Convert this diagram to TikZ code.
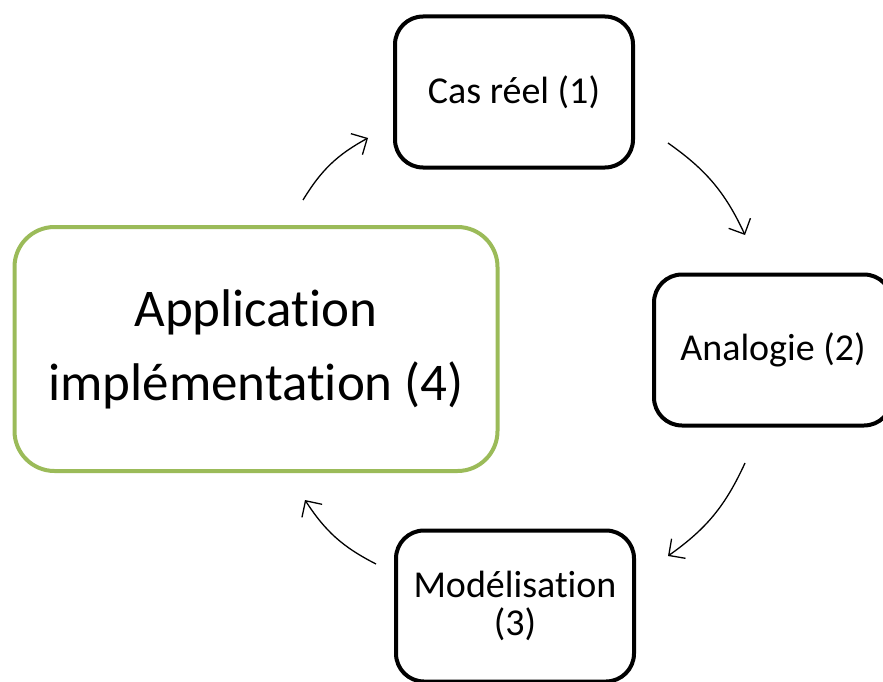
\documentclass[tikz,border=0pt]{standalone}
\usepackage{fontspec}
\setmainfont{Carlito}[Ligatures=CommonOff]
\usetikzlibrary{arrows.meta}

\definecolor{appgreen}{RGB}{155,187,89}
\tikzstyle{stage} = [draw, rectangle, line width=4pt, rounded corners=28pt, align=center, minimum width=238pt, minimum height=151pt, font=\fontsize{38}{38}\selectfont]
\tikzstyle{bigstage} = [stage, draw=appgreen, minimum width=483pt, minimum height=244pt, rounded corners=40pt, font=\fontsize{53}{74}\selectfont]
\tikzstyle{arrow} = [draw, line width=1.3pt, -{Straight Barb[length=12pt,width=24pt]}]

\begin{document}
\begin{tikzpicture}[x=1pt, y=-1pt]
  \useasboundingbox (0,0) rectangle (883,682);
  \node[stage] (s1) at (514,92) {Cas réel (1)};
  \node[stage] (s2) at (773,350) {Analogie (2)};
  \node[stage] (s3) at (515,606) {Modélisation\\(3)};
  \node[bigstage] (s4) at (256,349) {Application\\implémentation (4)};

  % connectors between the stages
  \coordinate (a1) at (303,200);
  \coordinate (b1) at (368,138);
  \coordinate (a2) at (668,143);
  \coordinate (b2) at (745,235);
  \coordinate (a3) at (745,463);
  \coordinate (b3) at (668,556);
  \coordinate (a4) at (376,564);
  \coordinate (b4) at (305,500);

  \draw [arrow] (a1) to[bend left=15] (b1);
  \draw [arrow] (a2) to[bend left=15] (b2);
  \draw [arrow] (a3) to[bend left=15] (b3);
  \draw [arrow] (a4) to[bend left=15] (b4);
\end{tikzpicture}
\end{document}
